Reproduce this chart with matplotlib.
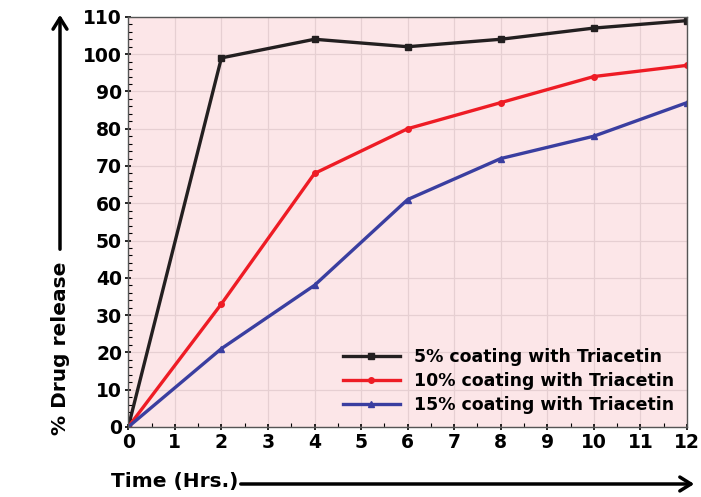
import matplotlib.pyplot as plt
from matplotlib.patches import FancyArrowPatch
from matplotlib.ticker import MultipleLocator

# --- dane ---
time_hrs = [0, 2, 4, 6, 8, 10, 12]
release_5 = [0, 99, 104, 102, 104, 107, 109]
release_10 = [0, 33, 68, 80, 87, 94, 97]
release_15 = [0, 21, 38, 61, 72, 78, 87]
labels = ["5% coating with Triacetin", "10% coating with Triacetin", "15% coating with Triacetin"]

plt.rcParams['font.family'] = ['DejaVu Sans']
plt.rcParams['font.weight'] = 'bold'

fig = plt.figure(figsize=(7.01, 4.97), dpi=100)
ax = fig.add_axes([0.183, 0.141, 0.797, 0.825])
ax.set_facecolor("#fce6e8")

ax.plot(time_hrs, release_5, color="#231f20", marker="s", markersize=4, linewidth=2.4, label=labels[0])
ax.plot(time_hrs, release_10, color="#ee1c25", marker="o", markersize=4, linewidth=2.4, label=labels[1])
ax.plot(time_hrs, release_15, color="#3a3ea0", marker="^", markersize=4, linewidth=2.4, label=labels[2])

ax.set_xlim(0, 12)
ax.set_ylim(0, 110)
ax.xaxis.set_major_locator(MultipleLocator(1))
ax.xaxis.set_minor_locator(MultipleLocator(0.5))
ax.yaxis.set_major_locator(MultipleLocator(10))
ax.yaxis.set_minor_locator(MultipleLocator(2))
ax.tick_params(axis='both', which='major', labelsize=13.5, length=5, width=1.2, direction='inout', pad=2)
ax.tick_params(axis='both', which='minor', length=3, width=0.8, direction='in')
ax.grid(True, which='major', color="#e6cfd2", linewidth=0.9)
for s in ax.spines.values():
    s.set_color("#555555")
    s.set_linewidth(1.0)

ax.legend(loc='lower right', frameon=False, fontsize=12.5, handlelength=3.3,
          borderaxespad=0.35, labelspacing=0.35, handletextpad=0.8)

# opisy osi ze strzałkami
fig.text(60 / 701, 1 - 348 / 497, "% Drug release", rotation=90, ha='center', va='center',
         fontsize=14.5, fontweight='bold')
fig.text(175 / 701, 1 - 482 / 497, "Time (Hrs.)", ha='center', va='center',
         fontsize=14.5, fontweight='bold')
fig.patches.append(FancyArrowPatch(
    (60 / 701, 1 - 252 / 497), (60 / 701, 1 - 12 / 497), transform=fig.transFigure,
    arrowstyle='->,head_length=8,head_width=5', linewidth=2.5, color='black', mutation_scale=1))
fig.patches.append(FancyArrowPatch(
    (238 / 701, 1 - 484 / 497), (697 / 701, 1 - 484 / 497), transform=fig.transFigure,
    arrowstyle='->,head_length=8,head_width=5', linewidth=2.5, color='black', mutation_scale=1))

fig.savefig("out.png", dpi=100)
